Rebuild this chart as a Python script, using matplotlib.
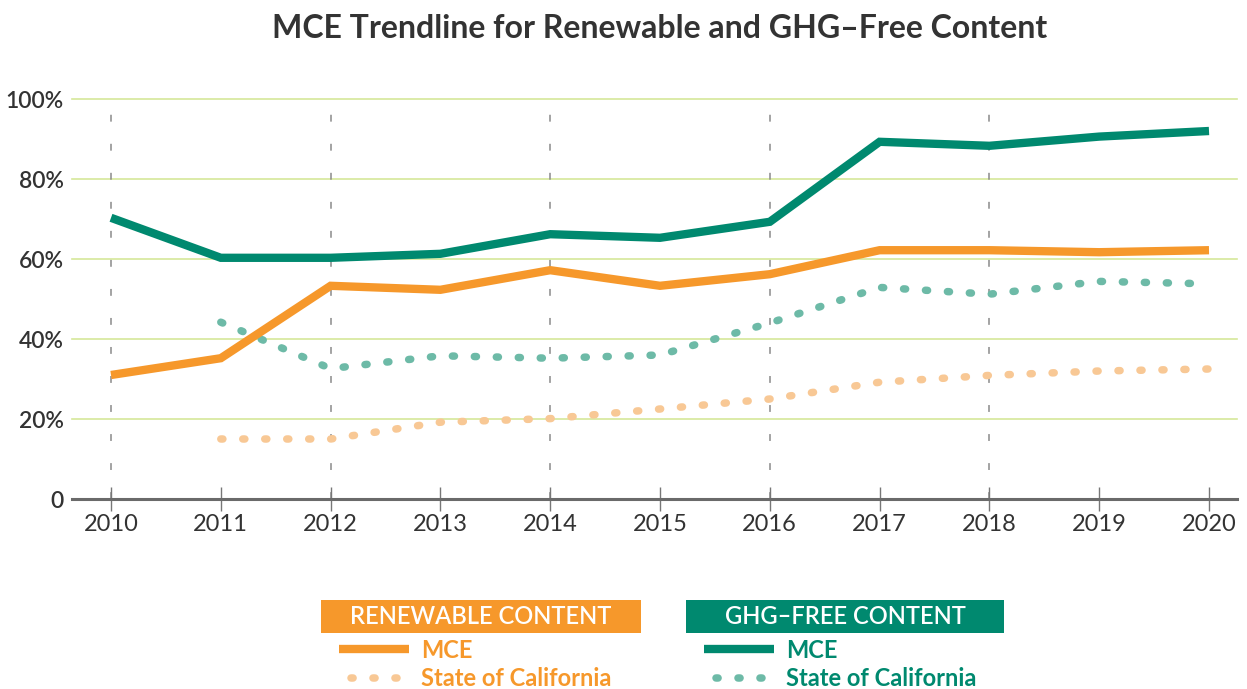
import matplotlib
matplotlib.use("Agg")
import matplotlib.pyplot as plt
from matplotlib.patches import Rectangle
from matplotlib.lines import Line2D

plt.rcParams['font.family'] = ['Lato', 'DejaVu Sans']

years = [2010, 2011, 2012, 2013, 2014, 2015, 2016, 2017, 2018, 2019, 2020]
mce_ghg_free = [70.3, 60.3, 60.3, 61.3, 66.2, 65.3, 69.3, 89.3, 88.3, 90.6, 92.0]
mce_renewable = [31.0, 35.2, 53.3, 52.3, 57.2, 53.3, 56.2, 62.2, 62.2, 61.7, 62.2]
ca_years = [2011, 2012, 2013, 2014, 2015, 2016, 2017, 2018, 2019, 2020]
ca_ghg_free = [44.2, 32.6, 35.8, 35.2, 36.0, 44.0, 52.9, 51.2, 54.4, 53.8]
ca_renewable = [15.0, 15.0, 19.2, 20.1, 22.5, 25.0, 29.2, 30.9, 32.0, 32.5]
y_ticks = [0, 20, 40, 60, 80, 100]
y_labels = ['0', '20%', '40%', '60%', '80%', '100%']
dashed_years = [2010, 2012, 2014, 2016, 2018]

ORANGE = '#F6982B'
GREEN = '#00896F'
LORANGE = '#F8C895'
LGREEN = '#6DBAA7'
GRID = '#D6E79A'
TXT = '#333333'
DOT_LW = 5.4
DOTS = (0, (0.28, 2.65))

W, H = 1247, 689
fig = plt.figure(figsize=(W / 100, H / 100), dpi=100)
fig.patch.set_facecolor('white')

ax = fig.add_axes([72 / W, 1 - 499 / H, (1237 - 72) / W, 400 / H])
ax.set_xlim(2010 - 39 / 109.8, 2020 + 28 / 109.8)
ax.set_ylim(0, 100)

for v in y_ticks[1:]:
    ax.axhline(v, color=GRID, lw=1.2, zorder=1, clip_on=False)
for x in dashed_years:
    ax.plot([x, x], [0, 100], color='#8a8a8a', lw=1.1, ls=(0, (4.5, 14.5)), zorder=1)

ax.plot(years, mce_ghg_free, color=GREEN, lw=6, solid_joinstyle='miter', solid_capstyle='butt', zorder=4)
ax.plot(years, mce_renewable, color=ORANGE, lw=6, solid_joinstyle='miter', solid_capstyle='butt', zorder=4)
ax.plot(ca_years, ca_ghg_free, color=LGREEN, lw=DOT_LW, ls=DOTS, dash_capstyle='round', zorder=3)
ax.plot(ca_years, ca_renewable, color=LORANGE, lw=DOT_LW, ls=DOTS, dash_capstyle='round', zorder=3)

for s in ['top', 'right', 'left']:
    ax.spines[s].set_visible(False)
ax.spines['bottom'].set_color('#6a6a6a')
ax.spines['bottom'].set_linewidth(2.2)
ax.spines['bottom'].set_zorder(5)

ax.set_xticks(years)
ax.set_xticklabels([str(y) for y in years])
ax.set_yticks(y_ticks)
ax.set_yticklabels(y_labels)
ax.tick_params(axis='x', direction='inout', length=17, width=1, color='#777777',
               labelsize=17, labelcolor=TXT, pad=2)
ax.tick_params(axis='y', length=0, labelsize=16.5, labelcolor=TXT, pad=6)
for t in ax.get_yticklabels():
    t.set_fontweight('semibold')

fig.text(660 / W, 1 - 28 / H, 'MCE Trendline for Renewable and GHG\u2013Free Content',
         ha='center', va='center', fontsize=23, fontweight='bold', color=TXT)

# legend
lg = fig.add_axes([0, 0, 1, 1])
lg.set_xlim(0, W)
lg.set_ylim(H, 0)
lg.axis('off')
lg.patch.set_alpha(0)

def legend_group(x0, x1, color, lcolor, title):
    lg.add_patch(Rectangle((x0, 600), x1 - x0, 33, color=color, lw=0))
    lg.text((x0 + x1) / 2, 617, title, ha='center', va='center', color='white',
            fontsize=17, fontweight='semibold')
    lg.add_line(Line2D([x0 + 18, x0 + 88], [649, 649], color=color, lw=6, solid_capstyle='butt'))
    lg.text(x0 + 100, 650, 'MCE', ha='left', va='center', color=color, fontsize=17, fontweight='bold')
    lg.add_line(Line2D([x0 + 30, x0 + 76], [678, 678], color=lcolor, lw=DOT_LW,
                       ls=DOTS, dash_capstyle='round'))
    lg.text(x0 + 100, 678, 'State of California', ha='left', va='center', color=color,
            fontsize=17, fontweight='bold')

legend_group(321, 641, ORANGE, LORANGE, 'RENEWABLE CONTENT')
legend_group(686, 1004, GREEN, LGREEN, 'GHG\u2013FREE CONTENT')

fig.savefig('out.png', dpi=100)
